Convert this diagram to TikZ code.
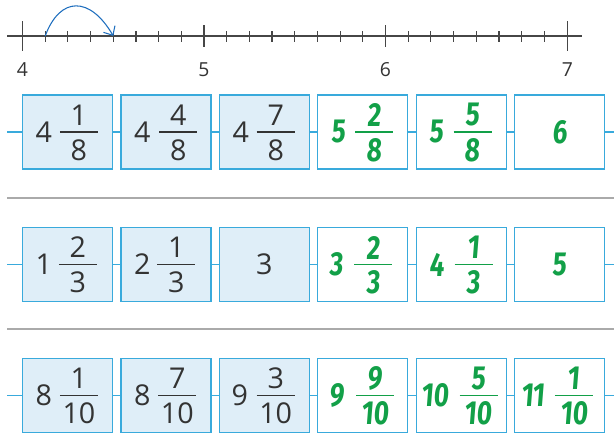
\documentclass[tikz,border=0pt]{standalone}
\usepackage{fontspec}
\setmainfont{Open Sans}
\newfontfamily\handfont{Fira Sans}[FakeStretch=0.78,FakeSlant=0.08]
\usetikzlibrary{arrows.meta}
\definecolor{boxblue}{RGB}{57,170,220}
\definecolor{boxfill}{RGB}{223,238,248}
\definecolor{ink}{RGB}{51,51,51}
\definecolor{pen}{RGB}{18,160,72}
\definecolor{arcblue}{RGB}{30,110,190}
\definecolor{sepgray}{RGB}{170,170,170}
\definecolor{axisgray}{RGB}{70,70,70}
\tikzset{
  cell/.style={draw=boxblue, line width=0.9pt, minimum width=67.5pt, minimum height=55.5pt, inner sep=0pt},
  given/.style={cell, fill=boxfill},
  blank/.style={cell, fill=white},
  conn/.style={draw=boxblue, line width=0.8pt},
  prt/.style={text=ink, font=\fontsize{21.5}{22}\selectfont, inner sep=0pt},
  prtbar/.style={draw=ink, line width=0.8pt},
  hnd/.style={text=pen, font=\handfont\bfseries\fontsize{25}{26}\selectfont, inner sep=0pt},
  hndbar/.style={draw=pen, line width=1pt},
  nlab/.style={text=ink, font=\fontsize{14.5}{15}\selectfont, inner sep=0pt},
  axis/.style={draw=axisgray, line width=0.9pt},
  sep/.style={draw=sepgray, line width=0.9pt},
}
% #1 box, #2 whole, #3 num, #4 den, #5 style, #6 whole offset, #7 bar start
\newcommand\mixfr[7]{%
  \path (#1.west) ++(#6,0) node[#5] (#1w) {#2};
  \path (#1.west) ++(#7,0) coordinate (#1a) ++(38,0) coordinate (#1b);
  \draw[#5bar] (#1a) -- (#1b);
  \path (#1a) ++(19,-17) node[#5] (#1n) {#3};
  \path (#1a) ++(19,18) node[#5] (#1d) {#4};
}
\begin{document}
\begin{tikzpicture}[x=0.75pt,y=-0.75pt]
\useasboundingbox (0,0) rectangle (614,432);
% number line
\draw[axis] (7,36) -- (582,36);
\foreach \i in {1,...,7,9,10,...,15,17,18,...,23}{
  \draw[axis] ({22.5+22.6875*\i},31) -- ({22.5+22.6875*\i},42);
}
\draw[axis] (22.5,21) -- (22.5,51);
\draw[axis] (567.5,21) -- (567.5,51);
\draw[axis] (204,25) -- (204,47);
\draw[axis] (385.5,25) -- (385.5,47);
\node[nlab] (l4) at (22.5,70) {4};
\node[nlab] (l5) at (204,70) {5};
\node[nlab] (l6) at (385.5,70) {6};
\node[nlab] (l7) at (567.5,70) {7};
\draw[arcblue, line width=0.8pt, -{Straight Barb[length=5.5pt,width=10pt]}]
  (45.2,36) .. controls (60,-4) and (90,-4) .. (113.3,36);
% separators
\draw[sep] (7,198) -- (614,198);
\draw[sep] (7,329) -- (614,329);
% rows
\foreach \r/\y in {1/132,2/264.5,3/395.5}{
  \coordinate (r\r s) at (7,\y);
  \coordinate (r\r e) at (614,\y);
  \node[given] (r\r b1) at (67.5,\y) {};
  \node[given] (r\r b2) at (165.9,\y) {};
  \node[given] (r\r b3) at (264.3,\y) {};
  \node[blank] (r\r b4) at (362.7,\y) {};
  \node[blank] (r\r b5) at (461.1,\y) {};
  \node[blank] (r\r b6) at (559.5,\y) {};
  \draw[conn] (r\r s) -- (r\r b1);
  \draw[conn] (r\r b1) -- (r\r b2);
  \draw[conn] (r\r b2) -- (r\r b3);
  \draw[conn] (r\r b3) -- (r\r b4);
  \draw[conn] (r\r b4) -- (r\r b5);
  \draw[conn] (r\r b5) -- (r\r b6);
  \draw[conn] (r\r b6) -- (r\r e);
}
% row 1
\mixfr{r1b1}{4}{1}{8}{prt}{22}{38}
\mixfr{r1b2}{4}{4}{8}{prt}{22}{39}
\mixfr{r1b3}{4}{7}{8}{prt}{22}{38}
\mixfr{r1b4}{5}{2}{8}{hnd}{21}{38}
\mixfr{r1b5}{5}{5}{8}{hnd}{21}{38}
\node[hnd] (r1b6v) at (r1b6) {6};
% row 2
\mixfr{r2b1}{1}{2}{3}{prt}{22}{37}
\mixfr{r2b2}{2}{1}{3}{prt}{22}{37}
\node[prt] (r2b3v) at (r2b3) {3};
\mixfr{r2b4}{3}{2}{3}{hnd}{19}{37}
\mixfr{r2b5}{4}{1}{3}{hnd}{21}{39}
\node[hnd] (r2b6v) at (r2b6) {5};
% row 3
\mixfr{r3b1}{8}{1}{10}{prt}{22}{38}
\mixfr{r3b2}{8}{7}{10}{prt}{22}{38}
\mixfr{r3b3}{9}{3}{10}{prt}{21}{38}
\mixfr{r3b4}{9}{9}{10}{hnd}{20}{39}
\mixfr{r3b5}{10}{5}{10}{hnd}{20}{44}
\mixfr{r3b6}{11}{1}{10}{hnd}{19}{41}
\end{tikzpicture}
\end{document}
